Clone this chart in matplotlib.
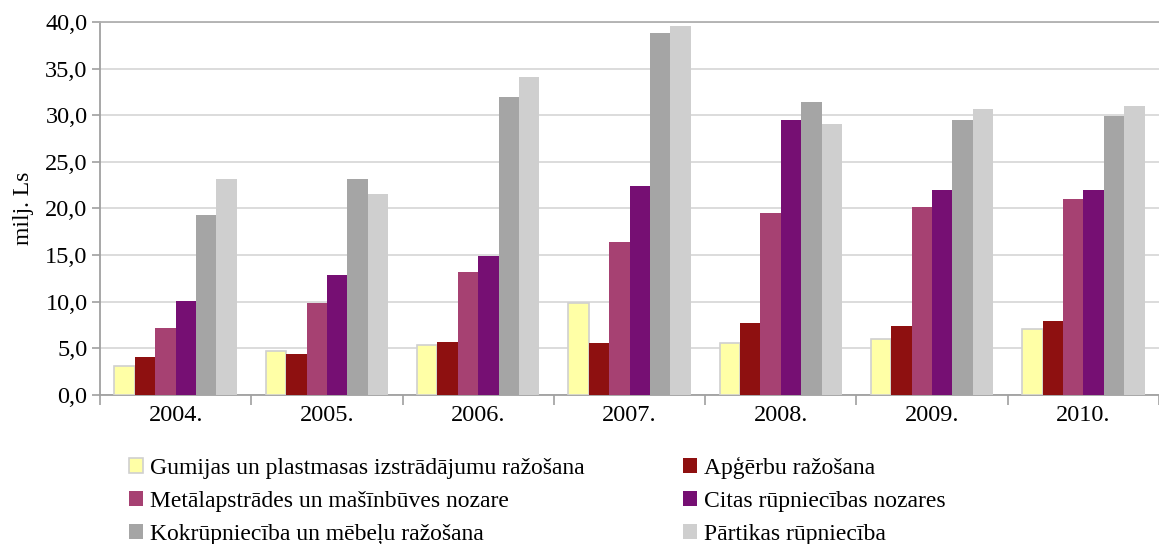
import numpy as np
import matplotlib.pyplot as plt
from matplotlib.ticker import FuncFormatter, MultipleLocator

plt.rcParams['font.family'] = ['Liberation Serif', 'DejaVu Serif']

years = ['2004.', '2005.', '2006.', '2007.', '2008.', '2009.', '2010.']
series_names = [
    'Gumijas un plastmasas izstrādājumu ražošana',
    'Apģērbu ražošana',
    'Metālapstrādes un mašīnbūves nozare',
    'Citas rūpniecības nozares',
    'Kokrūpniecība un mēbeļu ražošana',
    'Pārtikas rūpniecība',
]
gumijas = [3.1, 4.7, 5.4, 9.9, 5.6, 6.0, 7.1]
apgerbu = [4.1, 4.4, 5.7, 5.6, 7.7, 7.4, 7.9]
metal = [7.2, 9.9, 13.2, 16.4, 19.5, 20.2, 21.0]
citas = [10.1, 12.9, 14.9, 22.4, 29.5, 22.0, 22.0]
koks = [19.3, 23.2, 32.0, 38.8, 31.4, 29.5, 29.9]
partika = [23.2, 21.6, 34.1, 39.6, 29.1, 30.7, 31.0]
series = [gumijas, apgerbu, metal, citas, koks, partika]

colors = ['#FFFFA6', '#8E1010', '#A64172', '#760F73', '#A5A5A5', '#CFCFCF']
edges = ['#D0D0D0', 'none', 'none', 'none', 'none', 'none']

fig = plt.figure(figsize=(11.59, 5.44), dpi=100)
ax = fig.add_axes([100 / 1159, 149 / 544, 1059 / 1159, 373 / 544])

x = np.arange(len(years))
w = 0.135
bars = []
for j, (vals, name) in enumerate(zip(series, series_names)):
    b = ax.bar(x + (j - 2.5) * w, vals, w, color=colors[j], edgecolor=edges[j],
               linewidth=1.2, label=name, zorder=3)
    bars.append(b)

ax.set_xlim(-0.5, len(years) - 0.5)
ax.set_ylim(0, 40)
ax.yaxis.set_major_locator(MultipleLocator(5))
ax.yaxis.set_major_formatter(FuncFormatter(lambda v, p: f'{v:.1f}'.replace('.', ',')))
ax.grid(axis='y', color='#D9D9D9', linewidth=1.3, zorder=0)

ax.set_xticks(x)
ax.set_xticklabels(years, fontsize=17.5)
ax.set_xticks(np.arange(-0.5, len(years)), minor=True)
ax.tick_params(axis='x', which='major', length=0, pad=7)
ax.tick_params(axis='x', which='minor', length=7, color='#A0A0A0', width=1.2)
ax.tick_params(axis='y', labelsize=17.5, length=6, color='#A0A0A0', width=1.2, pad=3)

ax.spines['right'].set_visible(False)
ax.spines['top'].set_color('#B0B0B0')
ax.spines['left'].set_color('#A0A0A0')
ax.spines['bottom'].set_color('#A0A0A0')
for s in ['top', 'left', 'bottom']:
    ax.spines[s].set_linewidth(1.3)

ax.set_ylabel('milj. Ls', fontsize=17, labelpad=8)

# matplotlib fills legend columns first; reorder so rows read left-to-right
order = [0, 2, 4, 1, 3, 5]
fig.legend([bars[i] for i in order], [series_names[i] for i in order],
           loc='upper left', bbox_to_anchor=(129 / 1159, 1 - 457 / 544), ncol=2,
           frameon=False, fontsize=17, handlelength=0.6, handleheight=0.6,
           handletextpad=0.3, columnspacing=4.15, labelspacing=0.5,
           borderaxespad=0, borderpad=0)

fig.savefig('out.png', dpi=100)
